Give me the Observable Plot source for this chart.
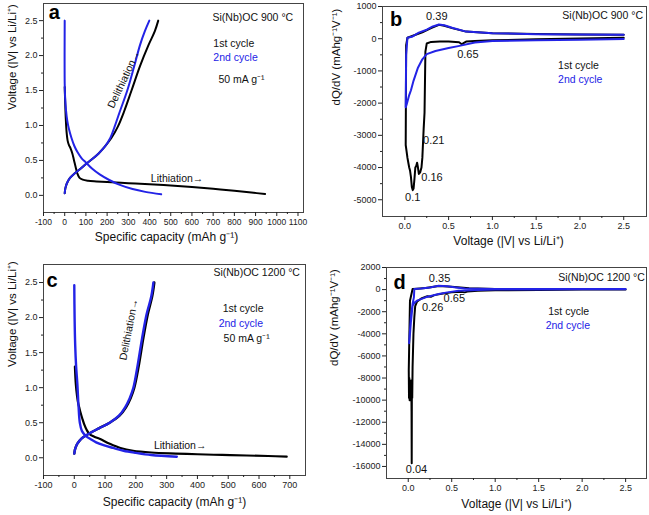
<!DOCTYPE html>
<html><head><meta charset="utf-8">
<script src="https://cdn.jsdelivr.net/npm/d3@7"></script>
<script src="https://cdn.jsdelivr.net/npm/@observablehq/plot@0.6"></script>
<style>
html,body{margin:0;padding:0;background:#fff;}
#wrap{position:relative;width:649px;height:515px;overflow:hidden;background:#fff;}
#wrap svg{position:absolute;max-width:none;overflow:visible;}
</style></head><body><div id="wrap"></div>
<script>
// ===== Panel a : Si(Nb)OC 900 °C, voltage profiles =====
const aXTicks = [-100,0,100,200,300,400,500,600,700,800,900,1000,1100];
const aXMinor = [-50,50,150,250,350,450,550,650,750,850,950,1050];
const aYTicks = [0,0.5,1,1.5,2,2.5];
const aYMinor = [0.25,0.75,1.25,1.75,2.25];
const aCap1Lith = [0,2,5,9,14,20,28,36,44,52,60,70,85,110,150,200,300,400,500,600,700,800,880,945];
const aV1Lith   = [1.55,1.35,1.1,0.9,0.78,0.72,0.67,0.6,0.5,0.4,0.31,0.25,0.225,0.21,0.2,0.19,0.175,0.16,0.14,0.12,0.095,0.065,0.04,0.02];
const aCap1Delith = [0,3,10,25,45,70,100,130,160,190,220,250,280,315,355,395,425,441];
const aV1Delith   = [0.03,0.1,0.17,0.25,0.31,0.37,0.45,0.52,0.6,0.7,0.82,0.98,1.2,1.5,1.85,2.15,2.35,2.5];
const aCap2Lith = [0,0,2,6,12,20,32,45,60,80,100,130,165,210,260,320,380,455];
const aV2Lith   = [2.5,1.6,1.4,1.22,1.07,0.95,0.82,0.71,0.62,0.53,0.47,0.38,0.3,0.22,0.15,0.09,0.05,0.015];
const aCap2Delith = [0,3,10,25,45,70,100,130,160,190,215,235,260,295,328,355,378,399];
const aV2Delith   = [0.03,0.1,0.17,0.25,0.31,0.37,0.45,0.52,0.6,0.7,0.82,0.98,1.2,1.5,1.85,2.15,2.35,2.5];

// ===== Panel b : Si(Nb)OC 900 °C, dQ/dV =====
const bXTicks = [0,0.5,1,1.5,2,2.5];
const bXMinor = [0.25,0.75,1.25,1.75,2.25];
const bYTicks = [1000,0,-1000,-2000,-3000,-4000,-5000];
const bYMinor = [500,-500,-1500,-2500,-3500,-4500];
const bV1 = [2.5,2.0,1.5,1.0,0.8,0.7,0.67,0.65,0.62,0.5,0.4,0.3,0.25,0.235,0.225,0.215,0.21,0.2,0.19,0.175,0.16,0.15,0.14,0.13,0.12,0.11,0.1,0.09,0.08,0.07,0.06,0.05,0.04,0.03,0.02,0.01,
             0.01,0.015,0.03,0.1,0.2,0.3,0.39,0.45,0.55,0.7,1.0,1.5,2.0,2.5];
const bQ1 = [30,10,-20,-50,-70,-90,-140,-170,-110,-90,-90,-100,-150,-400,-2300,-2800,-3100,-3700,-4000,-4150,-4200,-4000,-3850,-3950,-4000,-4350,-4650,-4700,-4600,-4300,-4100,-4000,-3850,-3700,-3500,-3300,
             -3300,-200,30,100,200,330,430,400,320,220,170,150,130,120];
const bV2 = [2.5,2.0,1.5,1.0,0.8,0.61,0.5,0.35,0.25,0.2,0.15,0.1,0.07,0.05,0.03,0.02,0.01,
             0.01,0.015,0.03,0.08,0.16,0.25,0.32,0.39,0.45,0.54,0.7,1.0,1.5,2.0,2.5];
const bQ2 = [-10,-30,-50,-70,-120,-230,-290,-380,-480,-640,-900,-1300,-1600,-1750,-1950,-2050,-2130,
             -2130,-500,30,60,190,280,380,440,420,340,220,170,140,130,120];

// ===== Panel c : Si(Nb)OC 1200 °C, voltage profiles =====
const cXTicks = [-100,0,100,200,300,400,500,600,700];
const cXMinor = [-50,50,150,250,350,450,550,650];
const cYTicks = [0,0.5,1,1.5,2,2.5];
const cYMinor = [0.25,0.75,1.25,1.75,2.25];
const cCap1Lith = [2,5,9,13,16,20,26,32,40,49,65,82,115,150,191,250,330,400,480,560,630,690];
const cV1Lith   = [1.3,1.05,0.88,0.77,0.72,0.65,0.56,0.48,0.4,0.34,0.3,0.27,0.2,0.14,0.1,0.075,0.06,0.05,0.04,0.032,0.025,0.015];
const cCap1Delith = [0,3,10,25,50,80,115,147,168,183,195,209,224,239,253,260];
const cV1Delith   = [0.06,0.13,0.2,0.28,0.35,0.42,0.5,0.6,0.72,0.85,1.0,1.3,1.7,2.05,2.3,2.5];
const cCap2Lith = [0,1,3,6,10,14,18,25,38,55,71,95,126,160,200,250,333];
const cV2Lith   = [2.46,2.0,1.6,1.3,1.05,0.72,0.5,0.38,0.31,0.26,0.22,0.18,0.14,0.1,0.07,0.04,0.015];
const cCap2Delith = [0,3,10,25,50,80,115,145,165,180,192,205,220,235,250,257];
const cV2Delith   = [0.06,0.13,0.2,0.28,0.35,0.42,0.5,0.6,0.72,0.85,1.0,1.3,1.7,2.05,2.3,2.5];

// ===== Panel d : Si(Nb)OC 1200 °C, dQ/dV =====
const dXTicks = [0,0.5,1,1.5,2,2.5];
const dXMinor = [0.25,0.75,1.25,1.75,2.25];
const dYTicks = [2000,0,-2000,-4000,-6000,-8000,-10000,-12000,-14000,-16000];
const dYMinor = [1000,-1000,-3000,-5000,-7000,-9000,-11000,-13000,-15000];
const dV1 = [2.5,2.0,1.5,1.0,0.8,0.68,0.65,0.6,0.5,0.4,0.3,0.26,0.22,0.15,0.1,0.08,0.07,0.06,0.05,0.046,0.042,0.04,0.038,0.035,0.032,0.028,0.025,0.02,0.016,0.012,0.009,0.006,
             0.006,0.02,0.05,0.1,0.2,0.35,0.5,0.7,1.0,1.5,2.0,2.5];
const dQ1 = [20,0,-30,-60,-100,-180,-250,-200,-250,-350,-500,-650,-600,-800,-1100,-1500,-2500,-4000,-7000,-9800,-8200,-15700,-11000,-8400,-10000,-8300,-9900,-8200,-10000,-8000,-9800,-7300,
             -7300,-1000,50,80,150,330,250,120,60,40,30,20];
const dV2 = [2.5,2.0,1.5,1.0,0.8,0.58,0.45,0.35,0.2,0.1,0.07,0.05,0.03,0.02,0.01,
             0.01,0.03,0.05,0.065,0.07,0.15,0.25,0.35,0.45,0.55,0.65,0.8,1.0,1.5,2.0,2.5];
const dQ2 = [40,30,20,0,-40,-100,-250,-400,-700,-1000,-1200,-1450,-3000,-4000,-4850,
             -4850,-2500,-1300,-700,60,100,200,350,300,200,100,70,60,60,60,60];

// ===== Annotations (text + anchor point in data units) =====
const aNotes = ["Si(Nb)OC 900 °C","1st cycle","2nd cycle","50 mA g⁻¹"];
const aNoteX = [697,701,701,725];
const aNoteY = [2.54,2.17,1.97,1.66];
const bNotes = ["1st cycle","2nd cycle"];
const bNoteX = [1.75,1.75];
const bNoteY = [-848,-1283];
const bPeaks = ["0.39","0.65","0.21","0.16","0.1"];
const bPeakX = [0.365,0.72,0.33,0.31,0.09];
const bPeakY = [705,-475,-3146,-4295,-4916];
const cNotes = ["Si(Nb)OC 1200 °C","1st cycle","2nd cycle","50 mA g⁻¹"];
const cNoteX = [452,482,469,485];
const cNoteY = [2.64,2.13,1.91,1.7];
const dNotes = ["1st cycle","2nd cycle"];
const dNoteX = [1.61,1.58];
const dNoteY = [-2000,-3270];
const dPeaks = ["0.35","0.26","0.65","0.04"];
const dPeakX = [0.36,0.28,0.53,0.095];
const dPeakY = [1030,-1610,-790,-16300];

const BLUE = "#2323e6";
const FONT = "Liberation Sans, Arial, Helvetica, sans-serif";
const pts = (xs, ys) => xs.map((x, i) => ({x, y: ys[i]}));
const rows = (ts, xs, ys) => ts.map((t, i) => ({t, x: xs[i], y: ys[i]}));
const s = v => String(v);
const f1 = v => v.toFixed(1);

function panel(cfg) {
  const marks = [
    Plot.frame({stroke: "#444", strokeWidth: 1}),
    Plot.axisX({ticks: cfg.xMajor, tickSize: 4, tickPadding: 2, tickFormat: cfg.xFmt, fontSize: cfg.xFont || 9, label: null, color: "#222"}),
    Plot.axisX({ticks: cfg.xMinor, tickSize: 2, tickFormat: () => "", label: null, color: "#222"}),
    Plot.axisY({ticks: cfg.yMajor, tickSize: 4, tickPadding: 2, tickFormat: cfg.yFmt, fontSize: 9, label: null, color: "#222"}),
    Plot.axisY({ticks: cfg.yMinor, tickSize: 2, tickFormat: () => "", label: null, color: "#222"}),
    ...cfg.lines.map(l => Plot.line(l.data, {x: "x", y: "y", stroke: l.color, strokeWidth: l.w, curve: cfg.curve, strokeLinejoin: "round"})),
    ...cfg.texts,
    Plot.text([cfg.xLabel], {text: d => d, frameAnchor: "bottom", dx: cfg.xlDx, dy: cfg.xlDy, fontSize: 12, fill: "#111"}),
    Plot.text([cfg.yLabel], {text: d => d, frameAnchor: "left", dx: cfg.ylDx, dy: cfg.ylDy, rotate: -90, fontSize: cfg.ylSize || 12, fill: "#111"}),
    Plot.text([cfg.letter], {text: d => d, x: cfg.letterPos[0], y: cfg.letterPos[1], fontSize: 20, fontWeight: "bold", fill: "#000"})
  ];
  const svg = Plot.plot({
    width: cfg.width, height: cfg.height,
    marginLeft: cfg.m[0], marginTop: cfg.m[1], marginRight: cfg.m[2], marginBottom: cfg.m[3],
    x: {domain: cfg.xDomain, label: null},
    y: {domain: cfg.yDomain, label: null},
    style: {fontFamily: FONT, fontSize: "9px", background: "transparent", color: "#222"},
    marks
  });
  svg.style.left = cfg.left + "px";
  svg.style.top = cfg.top + "px";
  document.getElementById("wrap").appendChild(svg);
}

const noteMarks = (ts, xs, ys, colors, anchor) =>
  rows(ts, xs, ys).map((r, i) => Plot.text([r], {x: "x", y: "y", text: "t", fill: colors[i], fontSize: 10.5, textAnchor: anchor}));

// Panel a
panel({
  left: 0, top: 0, width: 325, height: 255, m: [43, 3, 22, 43],
  xDomain: [-100, 1126], yDomain: [-0.245, 2.745],
  xMajor: aXTicks, xMinor: aXMinor, yMajor: aYTicks, yMinor: aYMinor, xFmt: s, yFmt: f1, xFont: 8.5,
  curve: "catmull-rom",
  lines: [
    {data: pts(aCap1Lith, aV1Lith), color: "#000", w: 2},
    {data: pts(aCap1Delith, aV1Delith), color: "#000", w: 2},
    {data: pts(aCap2Lith, aV2Lith), color: BLUE, w: 2},
    {data: pts(aCap2Delith, aV2Delith), color: BLUE, w: 2}
  ],
  texts: [
    ...noteMarks(aNotes, aNoteX, aNoteY, ["#111", "#111", BLUE, "#111"], "start"),
    Plot.text([{t: "Lithiation→", x: 530, y: 0.24}], {x: "x", y: "y", text: "t", fontSize: 10.5, fill: "#111"}),
    Plot.text([{t: "Delithiation→", x: 279, y: 1.66}], {x: "x", y: "y", text: "t", fontSize: 10.5, fill: "#111", rotate: -64.6})
  ],
  xLabel: "Specific capacity (mAh g⁻¹)", xlDx: -7, xlDy: 28,
  yLabel: "Voltage (|V| vs Li/Li⁺)", ylDx: -31, ylDy: 2, ylSize: 11.5,
  letter: "a", letterPos: [-49, 2.61]
});

// Panel b
panel({
  left: 325, top: 0, width: 324, height: 255, m: [57, 6, 3, 39],
  xDomain: [-0.255, 2.76], yDomain: [-5520, 1000],
  xMajor: bXTicks, xMinor: bXMinor, yMajor: bYTicks, yMinor: bYMinor, xFmt: f1, yFmt: s,
  curve: "linear",
  lines: [
    {data: pts(bV1, bQ1), color: "#000", w: 2},
    {data: pts(bV2, bQ2), color: BLUE, w: 2}
  ],
  texts: [
    Plot.text([{t: "Si(Nb)OC 900 °C", x: 2.72, y: 705}], {x: "x", y: "y", text: "t", fontSize: 10.5, fill: "#111", textAnchor: "end"}),
    ...noteMarks(bNotes, bNoteX, bNoteY, ["#111", BLUE], "start"),
    ...rows(bPeaks, bPeakX, bPeakY).map(r => Plot.text([r], {x: "x", y: "y", text: "t", fontSize: 11, fill: "#111"}))
  ],
  xLabel: "Voltage (|V| vs Li/Li⁺)", xlDx: -6, xlDy: 28,
  yLabel: "dQ/dV (mAhg⁻¹V⁻¹)", ylDx: -46, ylDy: -6, ylSize: 11.5,
  letter: "b", letterPos: [-0.1, 580]
});

// Panel c
panel({
  left: 0, top: 255, width: 325, height: 260, m: [43, 9, 20, 40],
  xDomain: [-100, 751], yDomain: [-0.253, 2.757],
  xMajor: cXTicks, xMinor: cXMinor, yMajor: cYTicks, yMinor: cYMinor, xFmt: s, yFmt: f1,
  curve: "catmull-rom",
  lines: [
    {data: pts(cCap1Lith, cV1Lith), color: "#000", w: 2.2},
    {data: pts(cCap1Delith, cV1Delith), color: "#000", w: 2.4},
    {data: pts(cCap2Lith, cV2Lith), color: BLUE, w: 2.4},
    {data: pts(cCap2Delith, cV2Delith), color: BLUE, w: 2.4}
  ],
  texts: [
    ...noteMarks(cNotes, cNoteX, cNoteY, ["#111", "#111", BLUE, "#111"], "start"),
    Plot.text([{t: "Lithiation→", x: 344, y: 0.17}], {x: "x", y: "y", text: "t", fontSize: 10.5, fill: "#111"}),
    Plot.text([{t: "Delithiation→", x: 177, y: 1.83}], {x: "x", y: "y", text: "t", fontSize: 10.5, fill: "#111", rotate: -79})
  ],
  xLabel: "Specific capacity (mAh g⁻¹)", xlDx: 0, xlDy: 30,
  yLabel: "Voltage (|V| vs Li/Li⁺)", ylDx: -31, ylDy: -3, ylSize: 11.5,
  letter: "c", letterPos: [-72, 2.53]
});

// Panel d
panel({
  left: 325, top: 255, width: 324, height: 260, m: [61, 12, 3, 37],
  xDomain: [-0.25, 2.74], yDomain: [-17090, 2000],
  xMajor: dXTicks, xMinor: dXMinor, yMajor: dYTicks, yMinor: dYMinor, xFmt: f1, yFmt: s,
  curve: "linear",
  lines: [
    {data: pts(dV1, dQ1), color: "#000", w: 2},
    {data: pts(dV2, dQ2), color: BLUE, w: 2}
  ],
  texts: [
    Plot.text([{t: "Si(Nb)OC 1200 °C", x: 2.72, y: 1118}], {x: "x", y: "y", text: "t", fontSize: 10.5, fill: "#111", textAnchor: "end"}),
    ...noteMarks(dNotes, dNoteX, dNoteY, ["#111", BLUE], "start"),
    ...rows(dPeaks, dPeakX, dPeakY).map(r => Plot.text([r], {x: "x", y: "y", text: "t", fontSize: 11, fill: "#111"}))
  ],
  xLabel: "Voltage (|V| vs Li/Li⁺)", xlDx: 0, xlDy: 29,
  yLabel: "dQ/dV (mAhg⁻¹V⁻¹)", ylDx: -52, ylDy: -7, ylSize: 11.5,
  letter: "d", letterPos: [-0.1, 590]
});
</script>
</body></html>
